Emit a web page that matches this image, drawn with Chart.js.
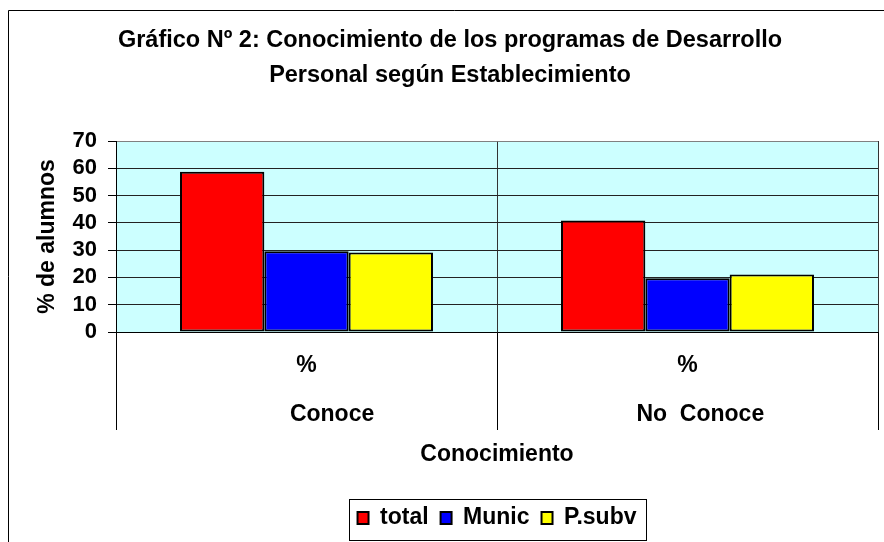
<!DOCTYPE html>
<html>
<head>
<meta charset="utf-8">
<script src="https://cdn.jsdelivr.net/npm/chart.js@4"></script>
<style>
  html, body { margin: 0; padding: 0; background: #fff; overflow: hidden; }
  canvas { display: block; }
</style>
</head>
<body>
<canvas id="chart" width="900" height="542"></canvas>
<script>
// data
const categories = [['%', '        Conoce'], ['%', '    No  Conoce']];
const seriesNames = ['total', 'Munic', 'P.subv'];
const total = [58.7, 40.9];
const munic = [29.6, 19.7];
const psubv = [29.1, 21.1];
const yTicks = [0, 10, 20, 30, 40, 50, 60, 70];

const titleLines = ['Gráfico Nº 2: Conocimiento de los programas de Desarrollo', 'Personal según Establecimiento'];
const yTitle = '% de alumnos';
const xTitle = 'Conocimiento';

Chart.defaults.font.family = "'Liberation Sans', Arial, sans-serif";
Chart.defaults.color = '#000';

// outer frame, plot background and legend box
const framePlugin = {
    id: 'frame',
    beforeDraw(chart) {
        const { ctx, chartArea: a } = chart;
        ctx.save();
        ctx.fillStyle = '#fff';
        ctx.fillRect(0, 0, chart.width, chart.height);
        ctx.strokeStyle = '#000';
        ctx.lineWidth = 1;
        ctx.beginPath();
        ctx.moveTo(8.5, chart.height);
        ctx.lineTo(8.5, 10.5);
        ctx.lineTo(chart.width, 10.5);
        ctx.stroke();
        ctx.fillStyle = '#ccffff';
        ctx.fillRect(a.left, a.top, a.right - a.left, a.bottom - a.top);
        ctx.restore();
    },
    afterDraw(chart) {
        const boxes = chart.legend.legendHitBoxes;
        if (!boxes || !boxes.length) return;
        const left = Math.min(...boxes.map(b => b.left)) - 9;
        const right = Math.max(...boxes.map(b => b.left + b.width)) + 9;
        const top = boxes[0].top - 7.5;
        const bottom = chart.height - 2;
        const ctx = chart.ctx;
        ctx.save();
        ctx.strokeStyle = '#000';
        ctx.lineWidth = 1;
        ctx.strokeRect(Math.round(left) + 0.5, Math.round(top) + 0.5, Math.round(right - left), Math.round(bottom - top));
        ctx.restore();
    }
};

const colors = ['#ff0000', '#0000ff', '#ffff00'];
const values = [total, munic, psubv];

new Chart(document.getElementById('chart'), {
    type: 'bar',
    data: {
        labels: categories,
        datasets: seriesNames.map((name, i) => ({
            label: name,
            data: values[i],
            backgroundColor: colors[i],
            borderColor: '#000',
            borderWidth: 2,
            borderSkipped: false,
            categoryPercentage: 0.664,
            barPercentage: 1
        }))
    },
    options: {
        responsive: false,
        animation: false,
        layout: { padding: { left: 22, right: 22, top: 10, bottom: 2.5 } },
        plugins: {
            title: {
                display: true,
                text: titleLines,
                font: { size: 23.5, weight: 'bold', lineHeight: 1.5 },
                padding: { top: 12.5, bottom: 48 },
                color: '#000'
            },
            legend: {
                position: 'bottom',
                fullSize: false,
                labels: {
                    boxWidth: 11,
                    boxHeight: 12,
                    padding: 12,
                    font: { size: 23, weight: 'bold' },
                    color: '#000'
                }
            },
            tooltip: { enabled: false }
        },
        scales: {
            x: {
                offset: true,
                grid: {
                    offset: true,
                    tickLength: 98,
                    color: c => c.index === 2 ? '#808080' : '#333',
                    tickColor: '#000',
                    lineWidth: 1
                },
                border: { color: '#000', width: 1 },
                ticks: {
                    font: { size: 23, weight: 'bold', lineHeight: 49 / 23 },
                    padding: -88.5,
                    maxRotation: 0,
                    autoSkip: false,
                    color: '#000'
                },
                title: {
                    display: true,
                    text: xTitle,
                    font: { size: 23, weight: 'bold', lineHeight: 1.2 },
                    padding: { top: 3, bottom: 26.2 },
                    color: '#000'
                },
                afterFit: s => { s.height = 162.5; }
            },
            y: {
                min: yTicks[0],
                max: yTicks[yTicks.length - 1],
                ticks: {
                    stepSize: yTicks[1] - yTicks[0],
                    autoSkip: false,
                    font: { size: 22, weight: 'bold' },
                    padding: 11,
                    color: '#000'
                },
                grid: {
                    tickLength: 8,
                    color: c => (c.tick && c.tick.value === yTicks[yTicks.length - 1]) ? '#808080' : '#222',
                    tickColor: '#000',
                    lineWidth: 1
                },
                border: { color: '#000', width: 1 },
                title: {
                    display: true,
                    text: yTitle,
                    font: { size: 23, weight: 'bold', lineHeight: 1.2 },
                    padding: { top: 12, bottom: 0 },
                    color: '#000'
                },
                afterFit: s => { s.width = 94; }
            }
        }
    },
    plugins: [framePlugin]
});
</script>
</body>
</html>
